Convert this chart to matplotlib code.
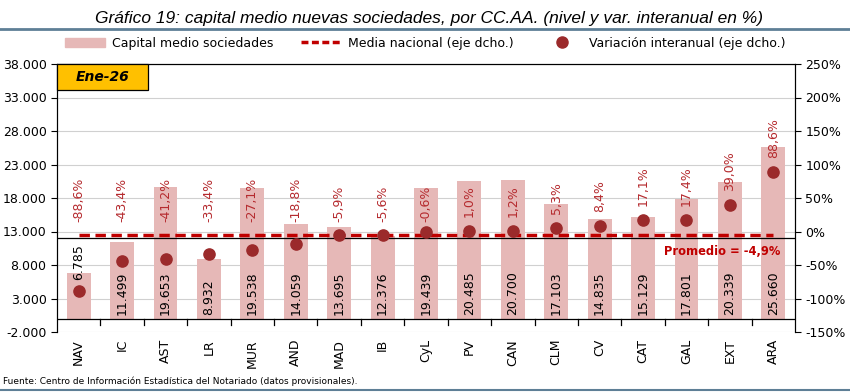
import matplotlib.pyplot as plt
import matplotlib.ticker as mticker
from matplotlib.lines import Line2D
from matplotlib.patches import Patch, Rectangle

regiones = ["NAV", "IC", "AST", "LR", "MUR", "AND", "MAD", "IB", "CyL", "PV",
            "CAN", "CLM", "CV", "CAT", "GAL", "EXT", "ARA"]
capital = [6785, 11499, 19653, 8932, 19538, 14059, 13695, 12376, 19439, 20485,
           20700, 17103, 14835, 15129, 17801, 20339, 25660]
variacion = [-88.6, -43.4, -41.2, -33.4, -27.1, -18.8, -5.9, -5.6, -0.6, 1.0,
             1.2, 5.3, 8.4, 17.1, 17.4, 39.0, 88.6]
media_nacional = -4.9

bar_color = "#E6B8B7"
dot_color = "#9B2A2B"
red = "#C00000"
lab_red = "#B52A2E"

fig = plt.figure(figsize=(8.5, 3.92), dpi=100)
ax = fig.add_axes([57 / 850, 1 - 332 / 392, (795 - 57) / 850, (332 - 64) / 392])
x = list(range(len(regiones)))

ax.bar(x, capital, width=0.55, color=bar_color, zorder=2)
ax.set_xlim(-0.5, len(regiones) - 0.5)
ax.set_ylim(-2000, 38000)
ax.set_yticks(range(-2000, 38001, 5000))
ax.yaxis.set_major_formatter(mticker.FuncFormatter(lambda v, p: f"{int(v):,}".replace(",", ".")))
ax.grid(axis="y", color="#D0D0D0", linewidth=0.8, zorder=0)
ax.set_xticks(x)
ax.set_xticklabels(regiones, rotation=90, fontsize=9)
ax.tick_params(axis="x", length=0, pad=5)
ax.tick_params(axis="y", labelsize=9, length=4)
ax.spines["bottom"].set_visible(False)
ax.axhline(0, color="black", linewidth=0.9, zorder=3)
for b in [i + 0.5 for i in x[:-1]]:
    ax.plot([b, b], [0, -900], color="black", linewidth=0.9, clip_on=False, zorder=3)
ax.axhline(12100, color="black", linewidth=0.9, zorder=3)

for xi, c in zip(x, capital):
    # la barra corta lleva la etiqueta en el extremo
    y_lab = c - 1000 if c < 8000 else 600
    ax.text(xi, y_lab, f"{c:,}".replace(",", "."), rotation=90, ha="center", va="bottom",
            fontsize=9, color="black", zorder=5)

ax2 = ax.twinx()
ax2.set_ylim(-150, 250)
ax2.set_yticks(range(-150, 251, 50))
ax2.yaxis.set_major_formatter(mticker.FuncFormatter(lambda v, p: f"{int(v)}%"))
ax2.tick_params(axis="y", labelsize=9, length=4)
ax2.spines["bottom"].set_visible(False)
ax2.plot(x, [media_nacional] * len(x), color=red, linewidth=2.5, dashes=(3, 1.6), zorder=4)
ax2.scatter(x, variacion, s=65, color=dot_color, zorder=6)
for xi, v in zip(x, variacion):
    ax2.annotate(f"{v:.1f}%".replace(".", ","), (xi, max(v, 0)), xytext=(0, 7 if v < 0 else 10),
                 textcoords="offset points", rotation=90, ha="center", va="bottom",
                 fontsize=9, color=lab_red, zorder=7)
ax2.text(14.82, -30, "Promedio = -4,9%", color=red, fontsize=8.3, fontweight="bold",
         ha="center", va="center")

# cajetin de fecha
ax2.add_patch(Rectangle((0, 0.903), 0.123, 0.097, transform=ax2.transAxes, fc="#FFC000",
                        ec="black", lw=0.9, zorder=10, clip_on=False))
ax2.text(0.0615, 0.9515, "Ene-26", transform=ax2.transAxes, ha="center", va="center",
         fontsize=10, fontweight="bold", fontstyle="italic", color="black", zorder=11)

handles = [Patch(color=bar_color),
           Line2D([0], [0], color=red, linewidth=2.5, dashes=(2, 1)),
           Line2D([0], [0], marker="o", color="none", markerfacecolor=dot_color,
                  markeredgecolor=dot_color, markersize=8)]
labels = ["Capital medio sociedades", "Media nacional (eje dcho.)",
          "Variación interanual (eje dcho.)"]
fig.legend(handles, labels, loc="center", bbox_to_anchor=(0.5, 1 - 43 / 392), ncol=3,
           frameon=False, fontsize=9, columnspacing=2.2, handlelength=3.2, handletextpad=0.6)

fig.text(0.505, 1 - 18 / 392, "Gráfico 19: capital medio nuevas sociedades, por CC.AA. (nivel y var. interanual en %)",
         ha="center", va="center", fontsize=12.5, fontstyle="italic", family="Liberation Sans")
fig.add_artist(Line2D([0, 1], [1 - 29 / 392, 1 - 29 / 392], color="#5E7F96", linewidth=2))
fig.add_artist(Line2D([0, 1], [1 - 390 / 392, 1 - 390 / 392], color="#5E7F96", linewidth=1.5))
fig.text(0.004, 1 - 381 / 392, "Fuente: Centro de Información Estadística del Notariado (datos provisionales).",
         ha="left", va="center", fontsize=6.5)

fig.savefig("out.png", dpi=100)
